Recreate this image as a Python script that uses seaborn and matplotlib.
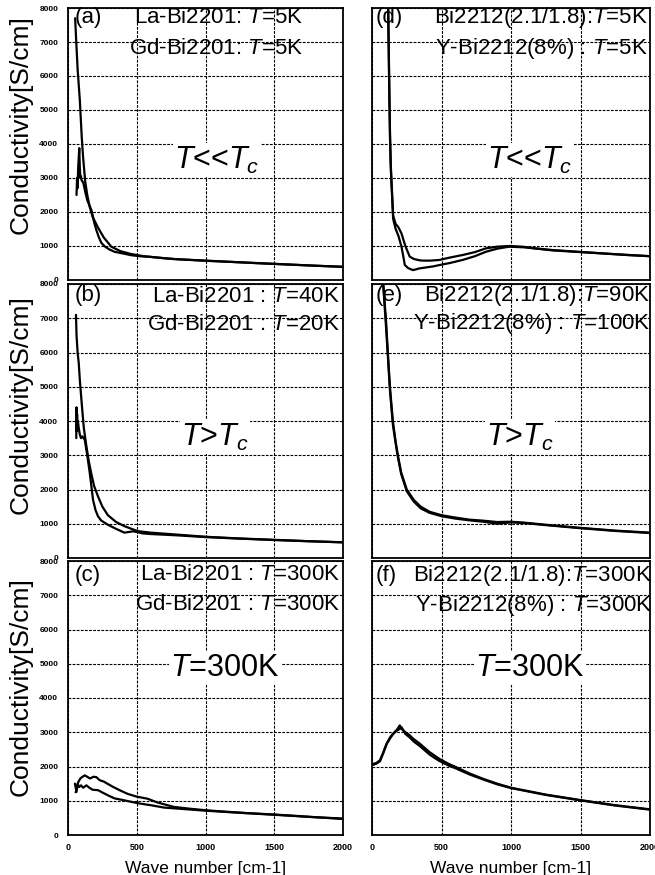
import numpy as np
import pandas as pd
import matplotlib
matplotlib.use("Agg")
import matplotlib.pyplot as plt
import seaborn as sns

# ---------------- data ----------------
# panel (a)  T << Tc
a_la_x = [52, 60, 70, 86, 100, 110, 125, 140, 158, 180, 216, 260, 315, 380, 458, 550, 650, 770, 900, 1050, 1200, 1400, 1600, 1800, 2000]
a_la_y = [7700, 7000, 6200, 5290, 4200, 3600, 2900, 2500, 2150, 1850, 1560, 1250, 980, 850, 765, 700, 660, 615, 590, 560, 530, 490, 455, 420, 385]
a_gd_x = [62, 66, 70, 74, 78, 82, 86, 90, 94, 98, 105, 112, 125, 140, 155, 170, 190, 206, 225, 243, 270, 300, 338, 400, 458, 520, 600, 700, 800, 1000, 1200, 1500, 1800, 2000]
a_gd_y = [2500, 3000, 2700, 3300, 3600, 3880, 3300, 3000, 3050, 2940, 2900, 2850, 2600, 2350, 2200, 2060, 1700, 1470, 1250, 1090, 980, 900, 830, 780, 730, 700, 680, 640, 610, 565, 530, 475, 420, 390]

# panel (b)  T > Tc
b_la_x = [58, 62, 70, 78, 86, 100, 115, 134, 150, 170, 190, 218, 250, 290, 350, 410, 506, 600, 770, 1000, 1250, 1500, 1750, 2000]
b_la_y = [7100, 6500, 6000, 5700, 5200, 4500, 3800, 3260, 2850, 2450, 2100, 1800, 1500, 1250, 1050, 930, 785, 740, 690, 620, 570, 530, 490, 460]
b_gd_x = [60, 62, 64, 66, 68, 72, 78, 86, 95, 105, 122, 140, 158, 170, 182, 200, 218, 240, 266, 300, 350, 410, 475, 540, 600, 700, 800, 1000, 1250, 1500, 1750, 2000]
b_gd_y = [3500, 4400, 3700, 4200, 3900, 4000, 3800, 3600, 3500, 3550, 3450, 3000, 2490, 2100, 1700, 1400, 1220, 1100, 1030, 950, 850, 740, 780, 720, 700, 680, 660, 610, 565, 525, 490, 455]

# panel (c)  T = 300K
c_la_x = [50, 60, 75, 90, 105, 122, 140, 160, 185, 206, 230, 260, 290, 330, 380, 434, 500, 578, 650, 770, 880, 1010, 1150, 1300, 1490, 1650, 1800, 1970, 2000]
c_la_y = [1500, 1300, 1550, 1650, 1700, 1740, 1700, 1650, 1700, 1690, 1600, 1560, 1490, 1400, 1300, 1200, 1120, 1060, 950, 820, 770, 720, 680, 640, 600, 560, 520, 485, 480]
c_gd_x = [55, 62, 70, 80, 95, 110, 134, 155, 180, 218, 260, 300, 338, 400, 458, 520, 602, 700, 800, 1000, 1200, 1500, 1750, 2000]
c_gd_y = [1250, 1260, 1500, 1400, 1450, 1380, 1450, 1380, 1320, 1310, 1220, 1140, 1070, 1020, 970, 920, 870, 800, 770, 710, 660, 590, 530, 470]

# panel (d)  T << Tc
d_bi_x = [100, 108, 115, 120, 125, 130, 135, 140, 152, 170, 190, 212, 240, 271, 300, 340, 367, 420, 486, 560, 652, 740, 819, 900, 986, 1080, 1176, 1300, 1486, 1700, 1850, 2000]
d_bi_y = [13000, 10500, 8500, 7000, 5500, 4200, 3400, 2940, 1900, 1650, 1550, 1370, 1000, 690, 620, 580, 570, 570, 590, 660, 735, 820, 930, 980, 1000, 980, 930, 880, 830, 770, 730, 700]
d_y_x = [100, 108, 115, 120, 125, 130, 135, 140, 152, 170, 190, 212, 225, 236, 260, 295, 340, 390, 440, 486, 560, 652, 740, 819, 900, 986, 1100, 1300, 1500, 1750, 2000]
d_y_y = [12500, 10000, 8200, 6800, 5300, 4100, 3300, 2850, 1800, 1500, 1300, 980, 700, 440, 350, 290, 340, 370, 400, 440, 500, 590, 700, 830, 920, 980, 960, 870, 820, 760, 700]

# panel (e)  T > Tc
e_x = [75, 80, 90, 100, 114, 129, 150, 170, 186, 210, 250, 300, 350, 414, 500, 600, 700, 800, 900, 1000, 1100, 1250, 1500, 1750, 2000]
e_bi_y = [8600, 8000, 7500, 7000, 6000, 5000, 4000, 3400, 3000, 2500, 2000, 1700, 1500, 1350, 1250, 1180, 1120, 1090, 1050, 1060, 1030, 970, 880, 800, 740]
e_y_y = [8800, 8100, 7400, 6800, 5900, 4900, 3900, 3350, 2950, 2450, 1950, 1650, 1450, 1320, 1220, 1150, 1100, 1060, 1000, 1040, 1020, 960, 870, 790, 730]

# panel (f)  T = 300K
f_x = [10, 30, 57, 80, 105, 130, 152, 180, 200, 212, 240, 271, 300, 343, 380, 414, 450, 486, 550, 600, 700, 800, 900, 1000, 1250, 1500, 1750, 2000]
f_bi_y = [2080, 2100, 2180, 2400, 2670, 2850, 2960, 3080, 3200, 3100, 3000, 2910, 2800, 2670, 2540, 2420, 2320, 2220, 2080, 1990, 1800, 1640, 1500, 1380, 1180, 1020, 870, 750]
f_y_y = [2050, 2080, 2150, 2380, 2650, 2820, 2950, 3050, 3100, 3150, 2950, 2850, 2730, 2600, 2470, 2350, 2250, 2160, 2030, 1950, 1770, 1620, 1480, 1370, 1170, 1010, 860, 740]

y_ticks = [0, 1000, 2000, 3000, 4000, 5000, 6000, 7000, 8000]
x_ticks = [0, 500, 1000, 1500, 2000]

panels = [
    dict(series=[("La", a_la_x, a_la_y), ("Gd", a_gd_x, a_gd_y)],
         tag="(a)", l1="La-Bi2201: $T$=5K", l2="Gd-Bi2201: $T$=5K", center=r"$T$<<$T_c$"),
    dict(series=[("Bi", d_bi_x, d_bi_y), ("Y", d_y_x, d_y_y)],
         tag="(d)", l1="Bi2212(2.1/1.8):$T$=5K", l2="Y-Bi2212(8%) : $T$=5K", center=r"$T$<<$T_c$"),
    dict(series=[("La", b_la_x, b_la_y), ("Gd", b_gd_x, b_gd_y)],
         tag="(b)", l1="La-Bi2201 : $T$=40K", l2="Gd-Bi2201 : $T$=20K", center=r"$T$>$T_c$"),
    dict(series=[("Bi", e_x, e_bi_y), ("Y", e_x, e_y_y)],
         tag="(e)", l1="Bi2212(2.1/1.8):$T$=90K", l2="Y-Bi2212(8%) : $T$=100K", center=r"$T$>$T_c$"),
    dict(series=[("La", c_la_x, c_la_y), ("Gd", c_gd_x, c_gd_y)],
         tag="(c)", l1="La-Bi2201 : $T$=300K", l2="Gd-Bi2201 : $T$=300K", center=r"$T$=300K"),
    dict(series=[("Bi", f_x, f_bi_y), ("Y", f_x, f_y_y)],
         tag="(f)", l1="Bi2212(2.1/1.8):$T$=300K", l2="Y-Bi2212(8%) : $T$=300K", center=r"$T$=300K"),
]

# ---------------- style ----------------
sns.set_style("white")
plt.rcParams["font.family"] = ["Liberation Sans", "DejaVu Sans"]
plt.rcParams["mathtext.fontset"] = "custom"
plt.rcParams["mathtext.it"] = "Liberation Sans:italic"
plt.rcParams["mathtext.rm"] = "Liberation Sans"
plt.rcParams["mathtext.cal"] = "Liberation Sans"
plt.rcParams["mathtext.sf"] = "Liberation Sans"
plt.rcParams["text.color"] = "black"
plt.rcParams["axes.labelcolor"] = "black"
plt.rcParams["xtick.color"] = "black"
plt.rcParams["ytick.color"] = "black"

W, H = 655, 875
fig = plt.figure(figsize=(W / 100, H / 100), dpi=100)

col_left = [68, 372]
col_right = [343, 650]
row_top = [8, 284, 561]
row_bot = [280, 558, 835]
ylabel_center = [125, 405, 687]

for i, p in enumerate(panels):
    r, c = divmod(i, 2)
    L, R = col_left[c], col_right[c]
    T, B = row_top[r], row_bot[r]
    ax = fig.add_axes([L / W, 1 - B / H, (R - L) / W, (B - T) / H])

    frames = []
    for name, xs, ys in p["series"]:
        frames.append(pd.DataFrame({"wn": xs, "sigma": ys, "sample": name}))
    df = pd.concat(frames, ignore_index=True)
    sns.lineplot(data=df, x="wn", y="sigma", hue="sample", units="sample",
                 estimator=None, sort=False, palette=["black", "black"],
                 linewidth=1.6, legend=False, ax=ax)

    ax.set_xlim(0, 2000)
    ax.set_ylim(0, 8000)
    ax.set_xticks(x_ticks)
    ax.set_yticks(y_ticks)
    ax.grid(True, color="black", linestyle=(0, (2.5, 1.2)), linewidth=0.8)
    ax.set_axisbelow(True)
    for s in ax.spines.values():
        s.set_color("black")
        s.set_linewidth(1.3)
    ax.tick_params(axis="both", length=0)
    ax.tick_params(axis="y", pad=7, labelsize=6)
    ax.tick_params(axis="x", pad=6, labelsize=6.5)
    for lab in ax.get_xticklabels() + ax.get_yticklabels():
        lab.set_fontweight("bold")

    if c == 0:
        ax.set_ylabel("Conductivity[S/cm]", fontsize=19, color="black")
        ax.yaxis.set_label_coords((33 - L) / (R - L), (B - ylabel_center[r]) / (B - T))
    else:
        ax.set_ylabel("")
        ax.tick_params(axis="y", labelleft=False)
    if r == 2:
        ax.set_xlabel("Wave number [cm-1]", fontsize=12.5, color="black")
        ax.xaxis.set_label_coords(0.5, (B - 861) / (B - T))
    else:
        ax.set_xlabel("")
        ax.tick_params(axis="x", labelbottom=False)

    def fx(px):
        return (px - L) / (R - L)

    def fy(py):
        return (B - py) / (B - T)

    line1_y = [17, 296, 575][r]
    line2_y = [48, 324, 605][r]
    right_px = [[303, 340, 340], [648, 650, 652]][c][r]
    tag_px = [75, 376][c]
    hs = 16
    ax.text(fx(tag_px), fy(line1_y), p["tag"], transform=ax.transAxes,
            ha="left", va="center", fontsize=hs, color="black")
    ax.text(fx(right_px), fy(line1_y), p["l1"], transform=ax.transAxes,
            ha="right", va="center", fontsize=hs, color="black")
    ax.text(fx(right_px), fy(line2_y), p["l2"], transform=ax.transAxes,
            ha="right", va="center", fontsize=hs, color="black")

    cx = [[217, 215, 225], [530, 520, 530]][c][r]
    cy = [160, 437, 668][r]
    ax.text(fx(cx), fy(cy), p["center"], transform=ax.transAxes,
            ha="center", va="center", fontsize=22, color="black",
            bbox=dict(facecolor="white", edgecolor="none", pad=1))

fig.savefig("out.png", dpi=100)
